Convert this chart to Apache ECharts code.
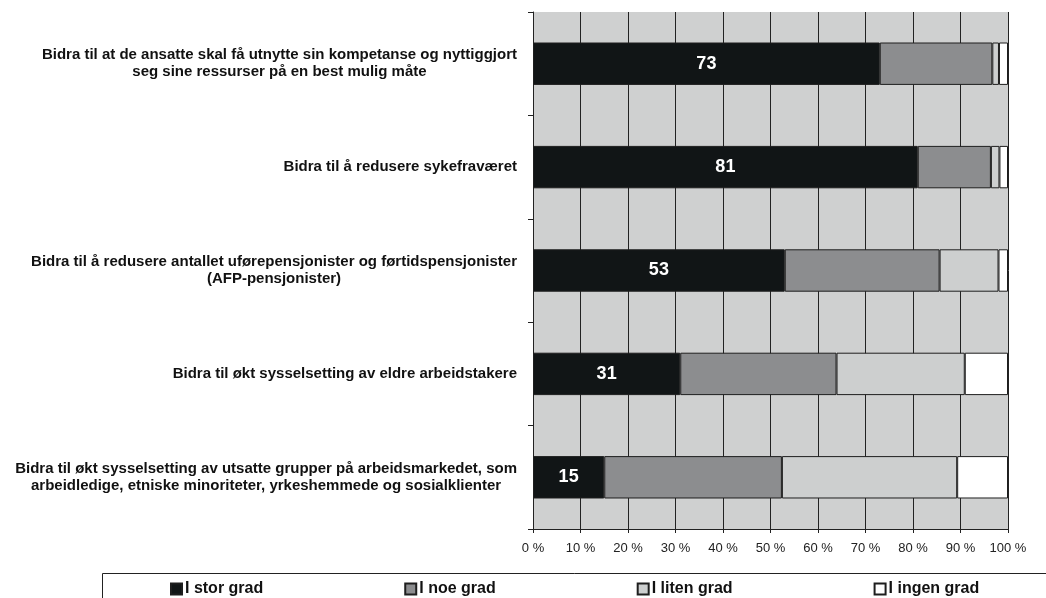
<!DOCTYPE html>
<html>
<head>
<meta charset="utf-8">
<script src="https://cdn.jsdelivr.net/npm/echarts@6/dist/echarts.min.js"></script>
<style>
  html, body { margin: 0; padding: 0; background: #ffffff; }
  #chart { width: 1046px; height: 598px; }
</style>
</head>
<body>
<div id="chart"></div>
<script>
// Statements (top to bottom); line breaks follow the printed label layout
const categories = [
  'Bidra til at de ansatte skal få utnytte sin kompetanse og nyttiggjort\nseg sine ressurser på en best mulig måte',
  'Bidra til å redusere sykefraværet',
  'Bidra til å redusere antallet uførepensjonister og førtidspensjonister\n(AFP-pensjonister)',
  'Bidra til økt sysselsetting av eldre arbeidstakere',
  'Bidra til økt sysselsetting av utsatte grupper på arbeidsmarkedet, som\narbeidledige, etniske minoriteter, yrkeshemmede og sosialklienter'
];

// Share of answers (percent) per category
const iStorGrad   = [73, 81, 53, 31, 15];
const iNoeGrad    = [23.7, 15.4, 32.6, 32.9, 37.4];
const iLitenGrad  = [1.4, 1.8, 12.4, 27.0, 36.9];
const iIngenGrad  = [1.9, 1.8, 2.0, 9.1, 10.7];

const seriesNames = ['I stor grad', 'I noe grad', 'I liten grad', 'I ingen grad'];
const xTicks = [0, 10, 20, 30, 40, 50, 60, 70, 80, 90, 100];

const FONT = '"Liberation Sans", Arial, Helvetica, sans-serif';
const fills = ['#111516', '#8c8d8f', '#cdcfcf', '#ffffff'];
const values = [iStorGrad, iNoeGrad, iLitenGrad, iIngenGrad];

const chart = echarts.init(document.getElementById('chart'), null, { renderer: 'canvas' });

const series = seriesNames.map((name, i) => ({
  name: name,
  type: 'bar',
  stack: 'total',
  barWidth: '41%',
  data: values[i],
  itemStyle: { color: fills[i], borderColor: '#1e1e1e', borderWidth: 1 },
  emphasis: { disabled: true },
  label: i === 0 ? {
    show: true,
    position: 'inside',
    color: '#ffffff',
    fontFamily: FONT,
    fontWeight: 'bold',
    fontSize: 18,
    formatter: '{c}'
  } : { show: false }
}));

chart.setOption({
  animation: false,
  backgroundColor: '#ffffff',
  grid: {
    left: 533, right: 38, top: 12, bottom: 69,
    show: true, backgroundColor: '#cfd0d0', borderWidth: 0
  },
  xAxis: {
    type: 'value',
    min: xTicks[0],
    max: xTicks[xTicks.length - 1],
    interval: 10,
    axisLine: { show: true, lineStyle: { color: '#222222', width: 1 } },
    axisTick: { show: true, length: 4, lineStyle: { color: '#222222' } },
    axisLabel: {
      formatter: '{value} %',
      color: '#222222',
      fontFamily: FONT,
      fontSize: 13,
      margin: 13
    },
    splitLine: { show: true, lineStyle: { color: '#222222', width: 1 } }
  },
  yAxis: {
    type: 'category',
    inverse: true,
    data: categories,
    axisLine: { show: true, lineStyle: { color: '#222222', width: 1 } },
    axisTick: { show: true, length: 5, lineStyle: { color: '#222222' } },
    axisLabel: {
      margin: 16,
      align: 'right',
      formatter: (v) => v.split('\n').map(l => '{c|' + l + '}').join('\n'),
      rich: {
        c: {
          align: 'center',
          color: '#111111',
          fontFamily: FONT,
          fontWeight: 'bold',
          fontSize: 15,
          lineHeight: 17
        }
      }
    },
    splitLine: { show: false }
  },
  legend: {
    data: seriesNames,
    left: 165,
    top: 576,
    itemGap: 141,
    itemWidth: 11,
    itemHeight: 11,
    icon: 'rect',
    selectedMode: false,
    textStyle: {
      color: '#111111',
      fontFamily: FONT,
      fontWeight: 'bold',
      fontSize: 16,
      padding: [0, 0, 0, -2]
    }
  },
  graphic: [{
    type: 'rect',
    silent: true,
    z: -1,
    shape: { x: 102.5, y: 573.5, width: 1000, height: 100 },
    style: { fill: 'none', stroke: '#222222', lineWidth: 1 }
  }],
  series: series
});
</script>
</body>
</html>
